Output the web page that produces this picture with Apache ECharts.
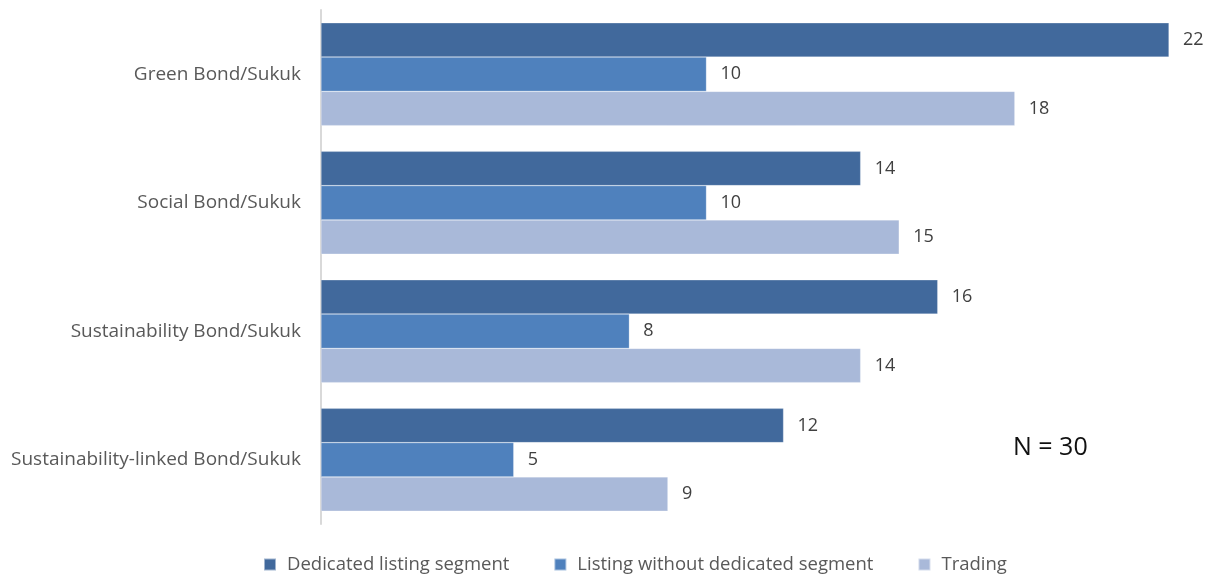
<!DOCTYPE html>
<html>
<head>
<meta charset="utf-8">
<script src="https://cdn.jsdelivr.net/npm/echarts@6/dist/echarts.min.js"></script>
<style>
  html, body { margin: 0; padding: 0; background: #fff; }
  #chart { width: 1213px; height: 574px; }
</style>
</head>
<body>
<div id="chart"></div>
<script>
// Bond/Sukuk types, top to bottom
const categories = [
  'Green Bond/Sukuk',
  'Social Bond/Sukuk',
  'Sustainability Bond/Sukuk',
  'Sustainability-linked Bond/Sukuk'
];
const seriesNames = [
  'Dedicated listing segment',
  'Listing without dedicated segment',
  'Trading'
];
const dedicatedSegment = [22, 14, 16, 12];
const listingNoSegment = [10, 10, 8, 5];
const trading = [18, 15, 14, 9];
const colors = ['#41699C', '#4F81BD', '#A9B9D9'];

const font = '"Open Sans", "Liberation Sans", sans-serif';
const chart = echarts.init(document.getElementById('chart'));

const makeSeries = (name, data, color) => ({
  name: name,
  type: 'bar',
  data: data,
  barGap: '0%',
  barCategoryGap: '20%',
  itemStyle: { color: color, borderColor: 'rgba(255,255,255,0.5)', borderWidth: 0.5 },
  label: {
    show: true,
    position: 'right',
    distance: 14,
    color: '#404040',
    fontFamily: font,
    fontSize: 18
  }
});

chart.setOption({
  animation: false,
  grid: { left: 321, top: 10, width: 848, height: 514, containLabel: false },
  xAxis: {
    type: 'value',
    min: 0,
    max: 22,
    show: false
  },
  yAxis: {
    type: 'category',
    data: categories,
    inverse: true,
    axisLine: { show: true, lineStyle: { color: '#D9D9D9', width: 2 } },
    axisTick: { show: false },
    axisLabel: {
      color: '#595959',
      fontFamily: font,
      fontSize: 19,
      margin: 20
    }
  },
  legend: {
    bottom: -5,
    left: 258,
    itemWidth: 12,
    itemHeight: 12,
    itemGap: 44,
    icon: 'rect',
    textStyle: { color: '#595959', fontFamily: font, fontSize: 18.5, padding: [0, 0, 0, 6] },
    data: seriesNames
  },
  graphic: [{
    type: 'text',
    left: 1013,
    top: 435,
    style: { text: 'N = 30', fill: '#111', font: '25px ' + font }
  }],
  series: [
    makeSeries(seriesNames[0], dedicatedSegment, colors[0]),
    makeSeries(seriesNames[1], listingNoSegment, colors[1]),
    makeSeries(seriesNames[2], trading, colors[2])
  ]
});
</script>
</body>
</html>
